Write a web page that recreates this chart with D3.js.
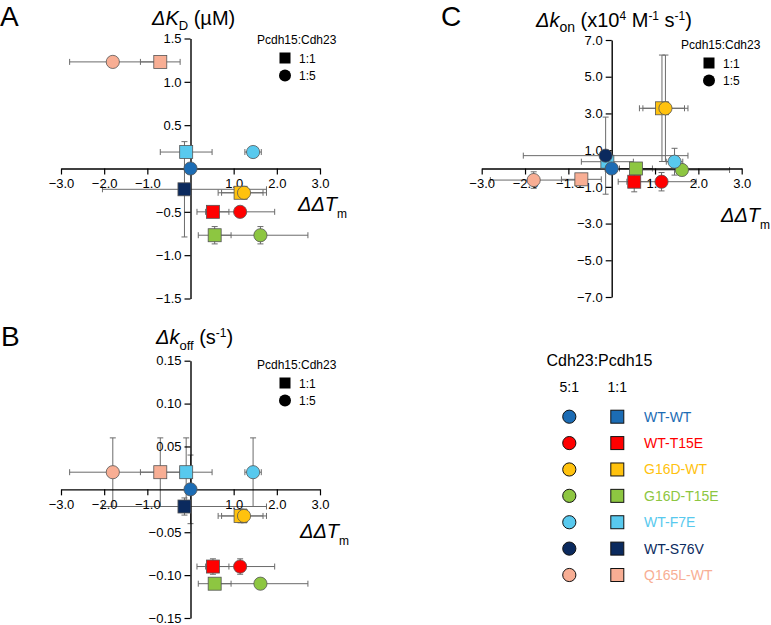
<!DOCTYPE html>
<html>
<head>
<meta charset="utf-8">
<script src="https://cdn.jsdelivr.net/npm/d3@7"></script>
<style>
  html, body { margin: 0; padding: 0; background: #fff; }
  svg text { font-family: "Liberation Sans", Arial, sans-serif; fill: #000; }
</style>
</head>
<body>
<svg id="chart" width="771" height="625"></svg>
<script>
// ---------------- DATA ----------------
const variants = ["WT-WT", "WT-T15E", "G16D-WT", "G16D-T15E", "WT-F7E", "WT-S76V", "Q165L-WT"];
const variantColors = ["#1c6cb4", "#ff0000", "#ffc20e", "#8dc641", "#58c9ee", "#0b2a5e", "#f8ae94"];

// one entry per plotted marker (drawing order)
const markerVariant = ["Q165L-WT", "Q165L-WT", "WT-F7E", "WT-S76V", "WT-WT", "G16D-T15E", "G16D-T15E", "WT-T15E", "WT-T15E", "G16D-WT", "G16D-WT", "WT-F7E"];
const markerRatio   = ["1:5", "1:1", "1:1", "1:1", "1:5", "1:1", "1:5", "1:1", "1:5", "1:1", "1:5", "1:5"];
const markerRatioC  = ["1:5", "1:1", "1:1", "1:5", "1:5", "1:1", "1:5", "1:1", "1:5", "1:1", "1:5", "1:5"];

// ΔΔTm (x) shared by all panels
const ddTm    = [-1.80, -0.70, -0.10, -0.14, 0.00, 0.56, 1.62, 0.52, 1.15, 1.16, 1.24, 1.45];
const ddTmErr = [ 1.00,  0.46,  0.60,  1.90, 0.00, 0.38, 1.10, 0.37, 0.80, 0.52, 0.52, 0.19];

// Panel A: ΔKD (µM)
const dKD     = [1.23, 1.23, 0.19, -0.24, 0.00, -0.77, -0.77, -0.50, -0.50, -0.28, -0.28, 0.19];
const dKDErr  = [0.00, 0.00, 0.00,  0.55, 0.00,  0.10,  0.10,  0.00,  0.00,  0.05,  0.05, 0.00];

// Panel B: Δkoff (s-1)
const dKoff    = [0.020, 0.020, 0.020, -0.020, 0.000, -0.110, -0.110, -0.090, -0.090, -0.031, -0.031, 0.020];
const dKoffErr = [0.040, 0.040, 0.040,  0.010, 0.040,  0.004,  0.004,  0.009,  0.009,  0.008,  0.008, 0.040];

// Panel C: Δkon (x10^4 M-1 s-1)
const dKon    = [-0.63, -0.59, 0.37, 0.70, 0.00, 0.00, -0.08, -0.72, -0.72, 3.28, 3.28, 0.37];
const dKonErr = [ 0.45,  0.30, 0.50, 2.10, 0.00, 0.00,  0.00,  0.55,  0.50, 2.90, 2.90, 0.73];

// Tick values
const xTicks    = [-3, -2, -1, 1, 2, 3];
const kdTicks   = [-1.5, -1.0, -0.5, 0.5, 1.0, 1.5];
const koffTicks = [-0.15, -0.10, -0.05, 0.05, 0.10, 0.15];
const konTicks  = [-7, -5, -3, -1, 1, 3, 5, 7];

const ratioLabels = ["1:1", "1:5"];

// ---------------- DRAW ----------------
const svg = d3.select("#chart");
const color = d3.scaleOrdinal().domain(variants).range(variantColors);

const SQ = 13, R = 6.6, CAP = 3;

function drawPanel(cfg) {
  const g = svg.append("g");
  const x = d3.scaleLinear().domain([-3, 3]).range(cfg.xRange);
  const y = d3.scaleLinear().domain(cfg.yDomain).range(cfg.yRange);

  const xAxis = d3.axisBottom(x).tickValues(xTicks).tickFormat(d3.format(".1f")).tickSize(6).tickSizeOuter(0).tickPadding(4);
  const yAxis = d3.axisLeft(y).tickValues(cfg.yTicks).tickFormat(d3.format(cfg.yFmt)).tickSize(6).tickSizeOuter(0).tickPadding(3);

  const pts = markerVariant.map((v, i) => ({
    v, r: cfg.ratio[i], x: ddTm[i], xe: ddTmErr[i], y: cfg.yVals[i], ye: cfg.yErr[i]
  }));

  // error bars
  const eb = g.append("g").attr("stroke", "#6b6b6b").attr("stroke-width", 1).attr("fill", "none");
  pts.forEach(p => {
    if (p.xe > 0) {
      const x0 = x(p.x - p.xe), x1 = x(p.x + p.xe), yy = y(p.y);
      eb.append("line").attr("x1", x0).attr("x2", x1).attr("y1", yy).attr("y2", yy);
      eb.append("line").attr("x1", x0).attr("x2", x0).attr("y1", yy - CAP).attr("y2", yy + CAP);
      eb.append("line").attr("x1", x1).attr("x2", x1).attr("y1", yy - CAP).attr("y2", yy + CAP);
    }
    if (p.ye > 0) {
      const y0 = y(p.y - p.ye), y1 = y(p.y + p.ye), xx = x(p.x);
      eb.append("line").attr("x1", xx).attr("x2", xx).attr("y1", y0).attr("y2", y1);
      eb.append("line").attr("x1", xx - CAP).attr("x2", xx + CAP).attr("y1", y0).attr("y2", y0);
      eb.append("line").attr("x1", xx - CAP).attr("x2", xx + CAP).attr("y1", y1).attr("y2", y1);
    }
  });

  // axes
  const gx = g.append("g").attr("transform", `translate(0,${y(0)})`).call(xAxis);
  const gy = g.append("g").attr("transform", `translate(${x(0)},0)`).call(yAxis);
  [gx, gy].forEach(a => {
    a.select(".domain").attr("stroke", "#000").attr("stroke-width", 1.4);
    a.selectAll(".tick line").attr("stroke", "#000").attr("stroke-width", 1.2);
    a.selectAll(".tick text").attr("font-size", 13).attr("font-family", "Liberation Sans, Arial, sans-serif").attr("fill", "#000");
  });

  // markers
  const mk = g.append("g");
  pts.forEach(p => {
    if (p.r === "1:1") {
      mk.append("rect").attr("x", x(p.x) - SQ / 2).attr("y", y(p.y) - SQ / 2)
        .attr("width", SQ).attr("height", SQ)
        .attr("fill", color(p.v)).attr("stroke", "#555").attr("stroke-width", 0.8);
    } else {
      mk.append("circle").attr("cx", x(p.x)).attr("cy", y(p.y)).attr("r", R)
        .attr("fill", color(p.v)).attr("stroke", "#555").attr("stroke-width", 0.8);
    }
  });

  // x axis title ΔΔTm
  const xt = g.append("text").attr("x", cfg.xTitle[0]).attr("y", cfg.xTitle[1]).attr("font-size", 20);
  xt.append("tspan").attr("font-style", "italic").text("ΔΔT");
  xt.append("tspan").attr("font-size", 12).attr("dy", 7).text("m");

  // panel legend
  const lg = g.append("g").attr("transform", `translate(${cfg.legend[0]},${cfg.legend[1]})`);
  lg.append("text").attr("x", 0).attr("y", 0).attr("font-size", 12).text("Pcdh15:Cdh23");
  ratioLabels.forEach((lab, i) => {
    const cy = 14 + i * 17.5;
    if (lab === "1:1") {
      lg.append("rect").attr("x", 28 - 5.5).attr("y", cy - 5.5).attr("width", 11).attr("height", 11).attr("fill", "#000");
    } else {
      lg.append("circle").attr("cx", 28).attr("cy", cy).attr("r", 6).attr("fill", "#000");
    }
    lg.append("text").attr("x", 42).attr("y", cy + 4.5).attr("font-size", 12).text(lab);
  });

  // panel letter
  svg.append("text").attr("x", cfg.letter[0]).attr("y", cfg.letter[1]).attr("font-size", 28).text(cfg.letterText);

  return g;
}

// Panel A
const gA = drawPanel({
  xRange: [61, 320], yDomain: [-1.5, 1.5], yRange: [298.5, 38.5], yTicks: kdTicks, yFmt: ".1f",
  yVals: dKD, yErr: dKDErr, ratio: markerRatio,
  xTitle: [298, 211], legend: [257, 44], letter: [0, 26], letterText: "A"
});
const tA = gA.append("text").attr("x", 152).attr("y", 25).attr("font-size", 20);
tA.append("tspan").attr("font-style", "italic").text("ΔK");
tA.append("tspan").attr("font-size", 13).attr("dy", 5).text("D");
tA.append("tspan").attr("dy", -5).text(" (µM)");

// Panel B
const gB = drawPanel({
  xRange: [61, 320], yDomain: [-0.15, 0.15], yRange: [618, 360.7], yTicks: koffTicks, yFmt: ".2f",
  yVals: dKoff, yErr: dKoffErr, ratio: markerRatio,
  xTitle: [300, 538], legend: [257, 369], letter: [1, 346], letterText: "B"
});
const tB = gB.append("text").attr("x", 156).attr("y", 344).attr("font-size", 20);
tB.append("tspan").attr("font-style", "italic").text("Δk");
tB.append("tspan").attr("font-size", 13).attr("dy", 6).text("off");
tB.append("tspan").attr("dy", -6).text(" (s");
tB.append("tspan").attr("font-size", 12).attr("dy", -7).text("-1");
tB.append("tspan").attr("dy", 7).text(")");

// Panel C
const gC = drawPanel({
  xRange: [481.7, 741.7], yDomain: [-7, 7], yRange: [297, 40], yTicks: konTicks, yFmt: ".1f",
  yVals: dKon, yErr: dKonErr, ratio: markerRatioC,
  xTitle: [721, 222], legend: [681, 49], letter: [441, 26], letterText: "C"
});
const tC = gC.append("text").attr("x", 536).attr("y", 27).attr("font-size", 20);
tC.append("tspan").attr("font-style", "italic").text("Δk");
tC.append("tspan").attr("font-size", 14).attr("dy", 5).text("on");
tC.append("tspan").attr("dy", -5).text(" (x10");
tC.append("tspan").attr("font-size", 12).attr("dy", -7).text("4");
tC.append("tspan").attr("dy", 7).text(" M");
tC.append("tspan").attr("font-size", 12).attr("dy", -7).text("-1");
tC.append("tspan").attr("dy", 7).text(" s");
tC.append("tspan").attr("font-size", 12).attr("dy", -7).text("-1");
tC.append("tspan").attr("dy", 7).text(")");

// Bottom-right legend
const L = svg.append("g");
L.append("text").attr("x", 546.5).attr("y", 366).attr("font-size", 16).text("Cdh23:Pcdh15");
L.append("text").attr("x", 569.3).attr("y", 392).attr("font-size", 14).attr("text-anchor", "middle").text("5:1");
L.append("text").attr("x", 617.3).attr("y", 392).attr("font-size", 14).attr("text-anchor", "middle").text("1:1");
const rowY = d3.scalePoint().domain(variants).range([416.7, 575]);
variants.forEach(v => {
  const cy = rowY(v);
  L.append("circle").attr("cx", 569.3).attr("cy", cy).attr("r", 6.6)
    .attr("fill", color(v)).attr("stroke", "#111").attr("stroke-width", 1);
  L.append("rect").attr("x", 617.3 - 6.5).attr("y", cy - 6.5).attr("width", 13).attr("height", 13)
    .attr("fill", color(v)).attr("stroke", "#111").attr("stroke-width", 1);
  L.append("text").attr("x", 644).attr("y", cy + 5).attr("font-size", 14)
    .style("fill", color(v)).text(v);
});
</script>
</body>
</html>
